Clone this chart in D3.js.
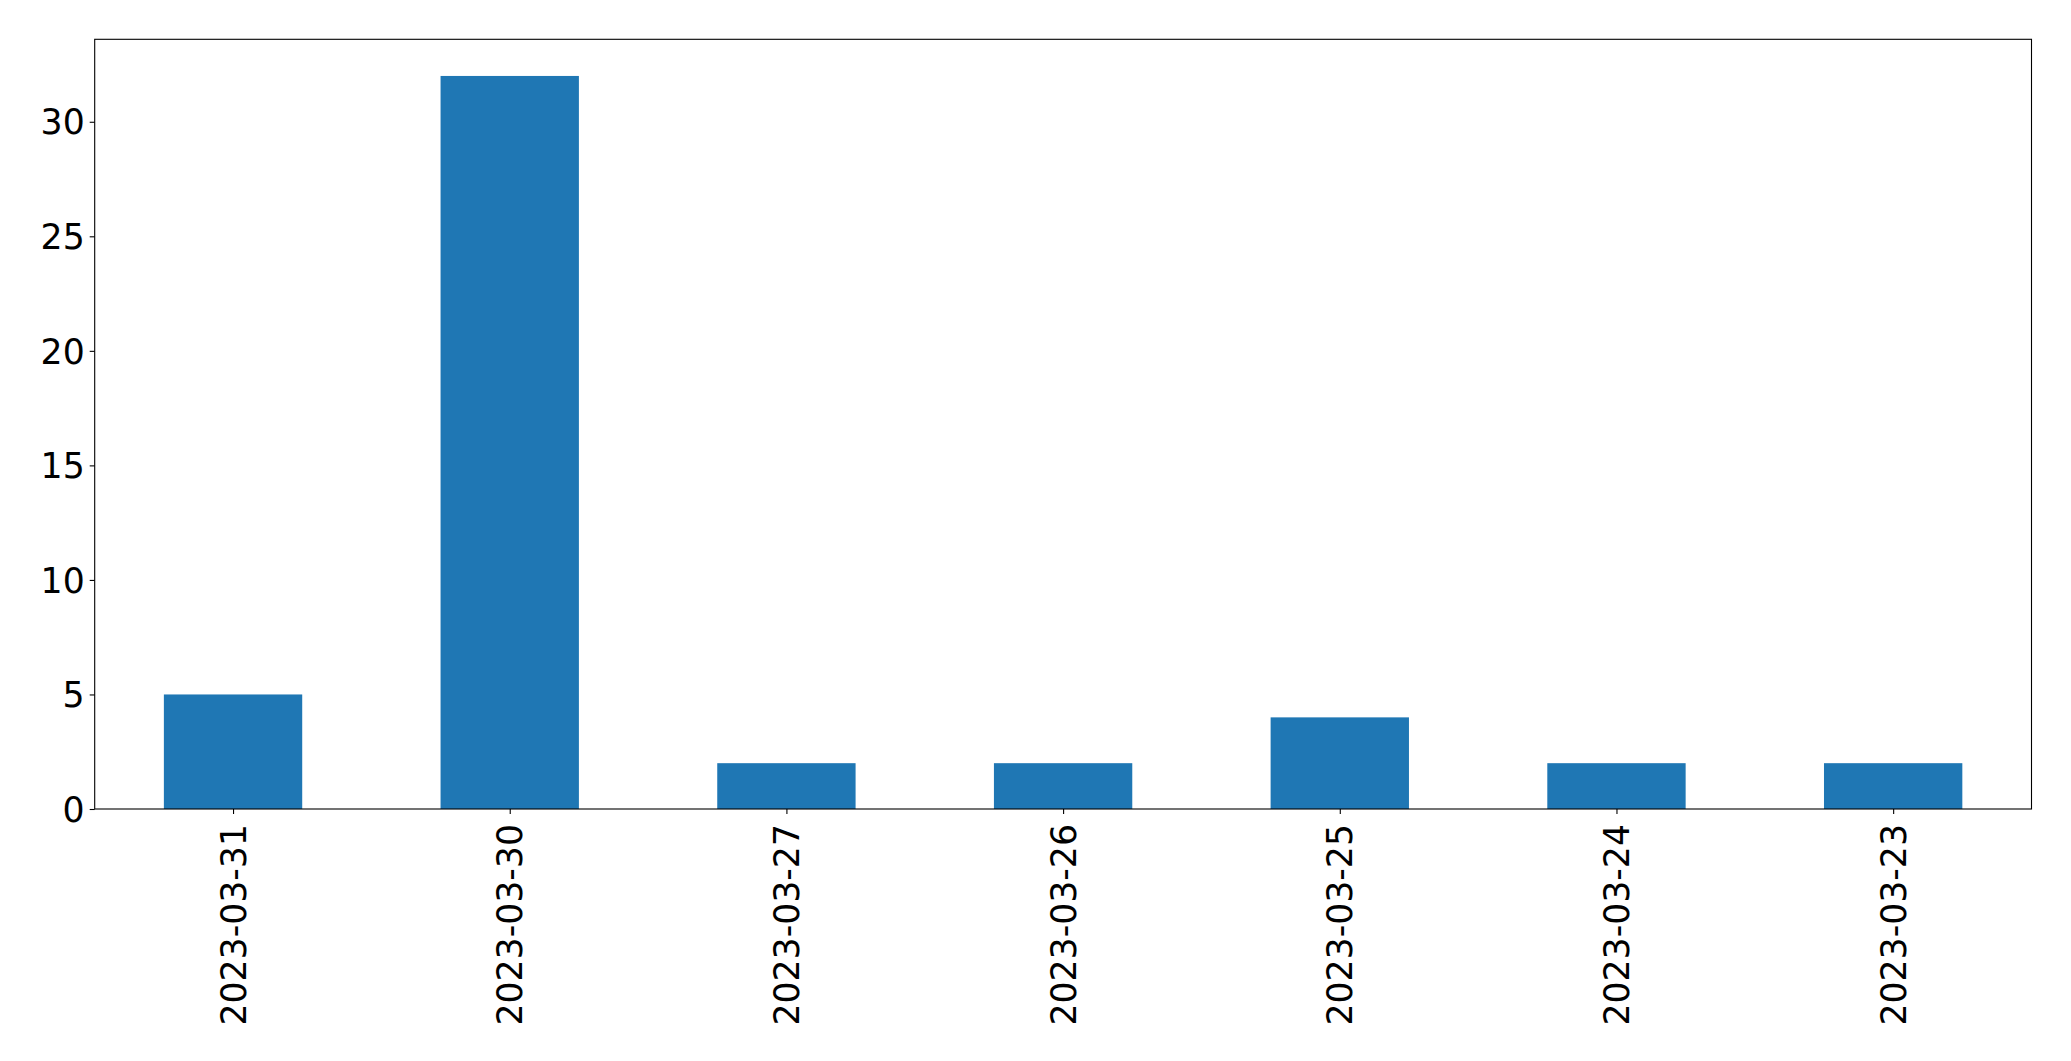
<!DOCTYPE html>
<html>
<head>
<meta charset="utf-8">
<script src="https://cdn.jsdelivr.net/npm/d3@7/dist/d3.min.js"></script>
<style>
  html, body { margin: 0; padding: 0; background: #fff; }
  svg { display: block; }
  text { font-family: "DejaVu Sans", sans-serif; }
</style>
</head>
<body>
<script>
const categories = ["2023-03-31", "2023-03-30", "2023-03-27", "2023-03-26", "2023-03-25", "2023-03-24", "2023-03-23"];
const counts = [5, 32, 2, 2, 4, 2, 2];
const yTicks = [0, 5, 10, 15, 20, 25, 30];

(function () {
const W = 2071, H = 1061;
const mLeft = 94.7, mRight = 2031.5, mTop = 39.3, mBottom = 809;
const fontSize = 34.7;

const svg = d3.select("body").append("svg").attr("width", W).attr("height", H);

const yMax = d3.max(counts) * 1.05;
const y = d3.scaleLinear().domain([0, yMax]).range([mBottom, mTop]);
const x = d3.scaleLinear().domain([-0.5, categories.length - 0.5]).range([mLeft, mRight]);
const barW = 0.5;

svg.append("g").selectAll("rect").data(counts).join("rect")
  .attr("x", (d, i) => x(i - barW / 2))
  .attr("width", (d, i) => x(i + barW / 2) - x(i - barW / 2))
  .attr("y", d => y(d))
  .attr("height", d => y(0) - y(d))
  .attr("fill", "#1f77b4");

// Y axis
const yAxis = d3.axisLeft(y).tickValues(yTicks).tickSize(5).tickPadding(5).tickFormat(d3.format("d"));
const gy = svg.append("g").attr("transform", `translate(${mLeft},0)`).call(yAxis);
gy.select(".domain").remove();
gy.selectAll("line").attr("stroke", "#000").attr("stroke-width", 1.1);
gy.selectAll("text").attr("font-size", fontSize).attr("fill", "#000")
  .attr("font-family", "DejaVu Sans, sans-serif").attr("dy", "0.35em");

// X axis
const xAxis = d3.axisBottom(x).tickValues(d3.range(categories.length)).tickSize(5).tickFormat(i => categories[i]);
const gx = svg.append("g").attr("transform", `translate(0,${mBottom})`).call(xAxis);
gx.select(".domain").remove();
gx.selectAll("line").attr("stroke", "#000").attr("stroke-width", 1.1);
gx.selectAll("text")
  .attr("font-size", fontSize).attr("fill", "#000")
  .attr("font-family", "DejaVu Sans, sans-serif")
  .attr("text-anchor", "end")
  .attr("transform", "rotate(-90)")
  .attr("x", -15)
  .attr("y", 0)
  .attr("dy", "0.35em");

// Frame
svg.append("rect")
  .attr("x", mLeft).attr("y", mTop)
  .attr("width", mRight - mLeft).attr("height", mBottom - mTop)
  .attr("fill", "none").attr("stroke", "#000").attr("stroke-width", 1.1);
})();
</script>
</body>
</html>
